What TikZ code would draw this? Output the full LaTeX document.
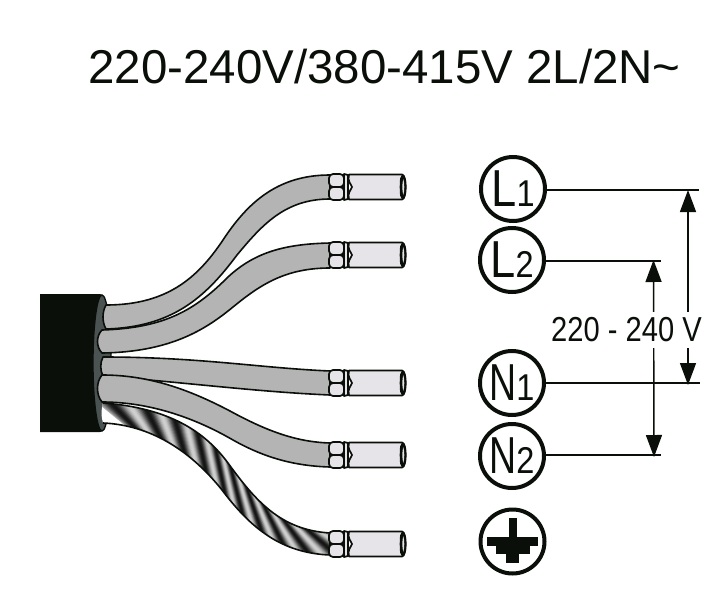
\documentclass[tikz,border=0pt]{standalone}
\usepackage{fontspec}
\setmainfont{Liberation Sans}
\newfontfamily\condfont[FakeStretch=0.87]{Liberation Sans}
\newfontfamily\condnfont[FakeStretch=0.72]{Liberation Sans}
\newfontfamily\dimfont[FakeStretch=0.84]{Liberation Sans}
\usetikzlibrary{arrows.meta,calc}
\definecolor{ink}{HTML}{0A0F0A}
\definecolor{insul}{HTML}{B4B4B4}
\definecolor{sleeve}{HTML}{E6E4E8}
\definecolor{face}{HTML}{4A5252}
\newcommand\cub[4]{\pgfmathsetmacro\res{\uu*\uu*\uu*#1+3*\uu*\uu*\vv*#2+3*\uu*\vv*\vv*#3+\vv*\vv*\vv*#4}}
\newcommand\setpar[1]{\pgfmathsetmacro\vv{#1}\pgfmathsetmacro\uu{1-\vv}}
\newcommand\toppt[1]{%
  \ifdim #1pt<1pt
    \setpar{#1}\cub{103}{170}{205}{228}\let\rx\res\cub{403}{408}{432}{463}\let\ry\res
  \else
    \setpar{#1-1}\cub{228}{255}{280}{330}\let\rx\res\cub{463}{500}{530}{533}\let\ry\res
  \fi}
\newcommand\botpt[1]{%
  \ifdim #1pt<1pt
    \setpar{#1}\cub{103}{150}{190}{222}\let\rx\res\cub{423}{425}{450}{490}\let\ry\res
  \else
    \setpar{#1-1}\cub{222}{250}{280}{330}\let\rx\res\cub{490}{527}{553}{555}\let\ry\res
  \fi}
\newcommand\bigletter{\condfont\fontsize{39}{41}\selectfont}
\newcommand\bignletter{\condnfont\fontsize{39}{41}\selectfont}
\newcommand\smalldigit{\condfont\fontsize{28}{30}\selectfont}
\tikzset{
  wire/.style={draw=ink,fill=insul,line width=1.2pt,line join=round},
  lug/.style={draw=ink,fill=sleeve,line width=1.3pt,line join=round},
  leadline/.style={draw=ink,line width=1.4pt},
  dimarrow/.style={draw=ink,line width=1.1pt,{Triangle[length=16.5pt,width=12pt,fill=ink]}-{Triangle[length=16.5pt,width=12pt,fill=ink]}},
  terminalring/.style={circle,draw=ink,line width=3pt,minimum size=48pt,inner sep=0pt,text=ink},
  terminal/.pic={
    \draw[lug,rounded corners=3pt] (329,-13) rectangle (344,0);
    \draw[lug,rounded corners=3pt] (329,0) rectangle (344,13);
    \draw[lug] (344,-13) -- (348,-12) -- (348,12) -- (344,13) -- cycle;
    \draw[lug] (349,-12.5) -- (402,-12.5) .. controls (407,-12.5) and (407,12.5) .. (402,12.5) -- (349,12.5)
      .. controls (347,6) and (351,3) .. (352,0) .. controls (351,-3) and (347,-6) .. (349,-12.5) -- cycle;
    \fill[ink] (402,-12.5) .. controls (398,-7) and (401,-3) .. (399.5,0) .. controls (401,3) and (398,7) .. (402,12.5)
      .. controls (407.5,12.5) and (407.5,-12.5) .. (402,-12.5) -- cycle;
    \fill[sleeve] (403.3,-8) .. controls (404.6,-3) and (404.6,3) .. (403.3,8) .. controls (402,3) and (402,-3) .. (403.3,-8) -- cycle;
  }
}
\begin{document}
\begin{tikzpicture}[x=0.75pt,y=-0.75pt]
\useasboundingbox (0,0) rectangle (720,610);
\fill[white] (0,0) rectangle (720,610);

\node[anchor=base west,inner sep=0pt,text=ink,font=\fontsize{35.6}{40}\selectfont] (title) at (88,84) {220-240V/380-415V 2L/2N\string~};

% cable jacket
\fill[ink] (40,294) -- (100,294) .. controls (108,294) and (111,340) .. (111,363)
  .. controls (111,390) and (108,432) .. (100,432) -- (40,432) -- cycle;
\draw[fill=face,draw=ink,line width=1pt] (102,363) ellipse (9 and 68);

% earth wire with twisted stripes
\begin{scope}
  \clip (103,403) .. controls (170,408) and (205,432) .. (228,463) .. controls (255,500) and (280,530) .. (330,533)
    -- (330,555) .. controls (280,553) and (250,527) .. (222,490) .. controls (190,450) and (150,425) .. (103,423)
    .. controls (101,416) and (101,410) .. (103,403) -- cycle;
  \fill[white] (95,395) rectangle (335,560);
  \foreach \k in {-2,...,200}{
    \pgfmathsetmacro\tpar{\k/100}
    \toppt{\tpar}\let\ax\rx\let\ay\ry
    \pgfmathsetmacro\tq{\tpar+0.2}
    \botpt{\tq}\let\bx\rx\let\by\ry
    \pgfmathsetmacro\gv{55+37*sin(360*5*\tpar)}
    \draw[line width=1.7pt,color={black!\gv!white},shorten <=-3pt,shorten >=-3pt] (\ax,\ay) -- (\bx,\by);
  }
\end{scope}
\draw[draw=ink,line width=1.2pt,line join=round] (103,403) .. controls (170,408) and (205,432) .. (228,463) .. controls (255,500) and (280,530) .. (330,533)
    -- (330,555) .. controls (280,553) and (250,527) .. (222,490) .. controls (190,450) and (150,425) .. (103,423);

% neutral wires
\draw[wire] (103,357) .. controls (200,357) and (260,368) .. (330,371) -- (330,395)
  .. controls (260,392) and (190,383) .. (103,376)
  .. controls (100,370) and (100,363) .. (103,357) -- cycle;
\draw[wire] (102,375) .. controls (150,375) and (190,390) .. (230,411) .. controls (265,430) and (295,442) .. (330,443)
  -- (330,467) .. controls (295,466) and (265,458) .. (233,440) .. controls (195,418) and (150,402) .. (102,402)
  .. controls (96,395) and (96,382) .. (102,375) -- cycle;

% line wires
\draw[wire] (106,305) .. controls (170,305) and (200,275) .. (225,237) .. controls (250,200) and (280,175) .. (330,175)
  -- (330,199) .. controls (285,199) and (262,225) .. (237,255) .. controls (205,298) and (172,327) .. (106,329)
  .. controls (102,322) and (102,312) .. (106,305) -- cycle;
\draw[wire] (102,330) .. controls (165,328) and (195,310) .. (228,277) .. controls (255,252) and (285,244) .. (330,243)
  -- (330,268) .. controls (285,268) and (260,285) .. (233,307) .. controls (205,330) and (170,352) .. (102,353)
  .. controls (96,347) and (96,336) .. (102,330) -- cycle;

% terminals
\pic at (0,187) {terminal};
\pic at (0,255) {terminal};
\pic at (0,383) {terminal};
\pic at (0,455) {terminal};
\pic at (0,544) {terminal};

% terminal rings
\node[terminalring] (L1) at (513,189) {\bigletter L\smalldigit 1};
\node[terminalring] (L2) at (512,260) {\bigletter L\smalldigit 2};
\node[terminalring] (N1) at (512,383) {\bignletter N\smalldigit 1};
\node[terminalring] (N2) at (512,456) {\bignletter N\smalldigit 2};
\node[terminalring] (PE) at (512.5,541.5) {};

% earth symbol
\fill[ink] (509,518) rectangle (517,537);
\fill[ink] (487,537) rectangle (538,546);
\fill[ink] (496,546) rectangle (530,554);
\fill[ink] (506,554) rectangle (519,563);

% lead lines
\coordinate (L1end) at (699,190);
\coordinate (L2end) at (661,261);
\coordinate (N1end) at (700,383);
\coordinate (N2end) at (661,455);
\draw[leadline] (L1end -| L1.east) -- (L1end);
\draw[leadline] (L2end -| L2.east) -- (L2end);
\draw[leadline] (N1end -| N1.east) -- (N1end);
\draw[leadline] (N2end -| N2.east) -- (N2end);

% dimension arrows
\coordinate (A1top) at (688,190);
\coordinate (A1bot) at (688,385);
\coordinate (A2top) at (653.5,260);
\coordinate (A2bot) at (654,457);
\draw[dimarrow] (A1top) -- (A1bot);
\draw[dimarrow] (A2top) -- (A2bot);

\node[fill=white,inner ysep=4pt,inner xsep=0pt,text=ink,font=\dimfont\fontsize{26}{28}\selectfont,anchor=center] (volt) at (626.5,330) {220 - 240 V};
\end{tikzpicture}
\end{document}
